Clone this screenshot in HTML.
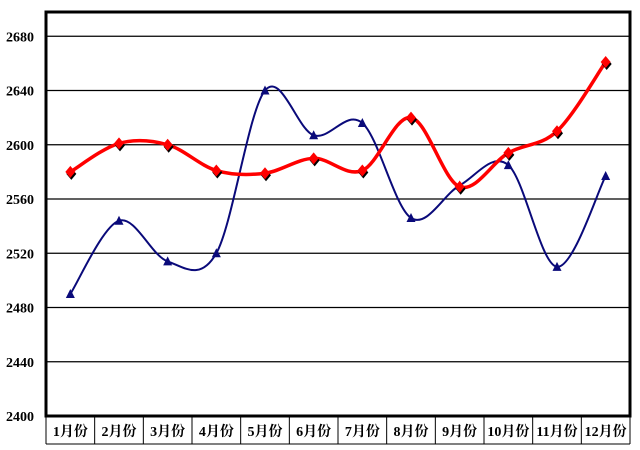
<!DOCTYPE html>
<html><head><meta charset="utf-8"><style>
body{margin:0;background:#fff;width:640px;height:445px;overflow:hidden}
text{font-family:"Liberation Serif","Noto Serif CJK SC",serif;font-weight:bold}
</style></head><body>
<svg id="s" width="640" height="445" xmlns="http://www.w3.org/2000/svg">
<rect x="0" y="0" width="640" height="445" fill="#fff"/>
<g id="grid" stroke="#000" stroke-width="1.3"></g>
<rect x="46" y="12" width="584" height="404" fill="none" stroke="#000" stroke-width="3"/>
<g id="lbl" font-size="14" fill="#000"></g>
<g id="ser"></g>
</svg>
<script>
const ns="http://www.w3.org/2000/svg";
function el(t,a,p,txt){const e=document.createElementNS(ns,t);for(const k in a)e.setAttribute(k,a[k]);if(txt!==undefined)e.textContent=txt;document.getElementById(p).appendChild(e);return e;}
const L=46,R=630,B=416,cw=(R-L)/12;
const Y=v=>B-(v-2400)*54.25/40;
for(let v=2400;v<=2680;v+=40){const y=Y(v);if(v>2400)el('line',{x1:L,x2:R,y1:y,y2:y},'grid');el('text',{x:6,y:y+5,'font-size':14},'lbl',String(v));}
// table
el('line',{x1:L,x2:R,y1:444,y2:444,'stroke-width':1},'grid');
for(let i=0;i<=12;i++){const x=L+cw*i;el('line',{x1:x,x2:x,y1:416,y2:444,'stroke-width':1},'grid');}
for(let i=0;i<12;i++){el('text',{x:L+cw*(i+.5),y:436,'text-anchor':'middle','font-size':14},'lbl',(i+1)+'月份');}
const red=[2580,2601,2600,2581,2579,2590,2581,2620,2569,2594,2610,2661];
const blue=[2490,2544,2514,2520,2640,2607,2616,2546,2570,2585,2510,2577];
function path(d){const p=d.map((v,i)=>[L+cw*(i+.5),Y(v)]);let s='M'+p[0][0]+','+p[0][1];
for(let i=0;i<p.length-1;i++){const p0=p[Math.max(i-1,0)],p1=p[i],p2=p[i+1],p3=p[Math.min(i+2,p.length-1)];const t=1/6;
s+=' C'+(p1[0]+(p2[0]-p0[0])*t)+','+(p1[1]+(p2[1]-p0[1])*t)+' '+(p2[0]-(p3[0]-p1[0])*t)+','+(p2[1]-(p3[1]-p1[1])*t)+' '+p2[0]+','+p2[1];}return s;}
el('path',{d:path(blue),fill:'none',stroke:'#0a0a7a','stroke-width':2},'ser');
blue.forEach((v,i)=>{const x=L+cw*(i+.5),y=Y(v);el('polygon',{points:`${x},${y-5} ${x+4.5},${y+4} ${x-4.5},${y+4}`,fill:'#0a0a7a'},'ser');});
el('path',{d:path(red),fill:'none',stroke:'#f00','stroke-width':3.5},'ser');
red.forEach((v,i)=>{const x=L+cw*(i+.5),y=Y(v);
el('polygon',{points:`${x+1},${y-4} ${x+6},${y+2} ${x+1},${y+8} ${x-4},${y+2}`,fill:'#000'},'ser');
el('polygon',{points:`${x},${y-6} ${x+5},${y} ${x},${y+6} ${x-5},${y}`,fill:'#f00'},'ser');});
</script>
</body></html>
